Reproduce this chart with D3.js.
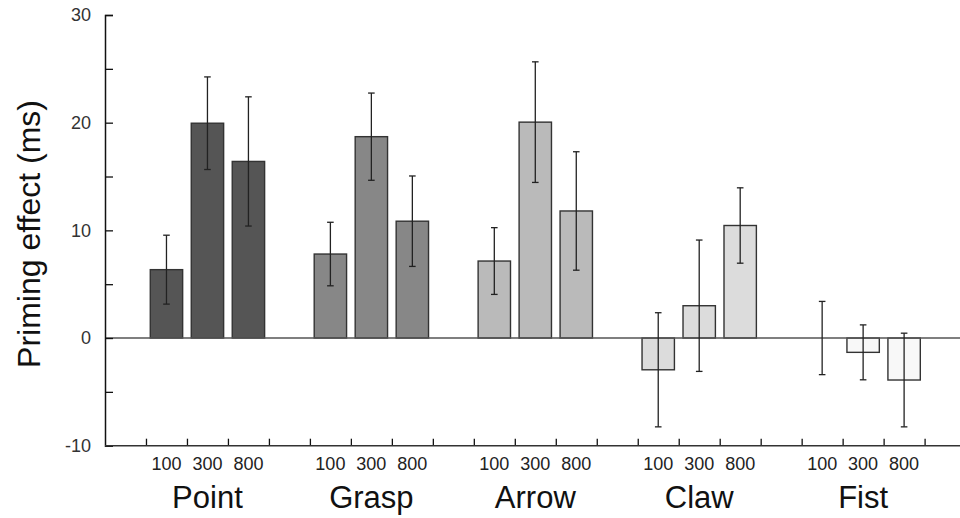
<!DOCTYPE html>
<html>
<head>
<meta charset="utf-8">
<script src="https://cdn.jsdelivr.net/npm/d3@7"></script>
<style>
  html, body { margin: 0; padding: 0; background: #fff; }
  svg { display: block; font-family: "Liberation Sans", Arial, sans-serif; }
</style>
</head>
<body>
<svg id="chart" width="960" height="518"></svg>
<script>
// ---- data ----
const categories = ["Point", "Grasp", "Arrow", "Claw", "Fist"];
const soaLabels = ["100", "300", "800"];
const pointMeans = [6.35, 19.95, 16.4];
const graspMeans = [7.8, 18.7, 10.85];
const arrowMeans = [7.15, 20.05, 11.8];
const clawMeans  = [-2.95, 3.0, 10.45];
const fistMeans  = [0.0, -1.33, -3.9];
const pointErr = [3.2, 4.3, 6.0];
const graspErr = [2.95, 4.05, 4.2];
const arrowErr = [3.1, 5.6, 5.5];
const clawErr  = [5.3, 6.1, 3.5];
const fistErr  = [3.4, 2.55, 4.35];
const yTicks = [-10, -5, 0, 5, 10, 15, 20, 25, 30];
const yLabelTicks = [-10, 0, 10, 20, 30];
const groupColors = ["#555555", "#878787", "#bababa", "#dcdcdc", "#f8f8f8"];

const meansAll = [pointMeans, graspMeans, arrowMeans, clawMeans, fistMeans];
const errAll = [pointErr, graspErr, arrowErr, clawErr, fistErr];

const rows = [];
categories.forEach((c, g) => {
  soaLabels.forEach((s, j) => {
    rows.push({ cat: c, g: g, soa: s, slot: g * 4 + 1 + j, mean: meansAll[g][j], err: errAll[g][j] });
  });
});

// ---- layout ----
const svg = d3.select("#chart");
const x0 = 105, slotW = 40.98;
const nSlots = 21;
const x = d3.scaleLinear().domain([0, nSlots]).range([x0, x0 + nSlots * slotW]);
const y = d3.scaleLinear().domain([-10, 30]).range([445.7, 15]);
const barW = slotW * 0.79;
const xEnd = 960;

// bars (zero-height bars are not drawn)
svg.append("g").selectAll("rect").data(rows.filter(d => d.mean !== 0)).join("rect")
  .attr("x", d => x(d.slot + 0.5) - barW / 2)
  .attr("width", barW)
  .attr("y", d => y(Math.max(0, d.mean)))
  .attr("height", d => Math.abs(y(d.mean) - y(0)))
  .attr("fill", d => groupColors[d.g])
  .attr("stroke", "#333")
  .attr("stroke-width", 1.4);

// zero line
svg.append("line")
  .attr("x1", x0).attr("x2", xEnd)
  .attr("y1", y(0)).attr("y2", y(0))
  .attr("stroke", "#555").attr("stroke-width", 1.5);

// error bars
const eb = svg.append("g").attr("stroke", "#222").attr("stroke-width", 1.3);
rows.forEach(d => {
  const cx = x(d.slot + 0.5);
  eb.append("line").attr("x1", cx).attr("x2", cx)
    .attr("y1", y(d.mean + d.err)).attr("y2", y(d.mean - d.err));
  [d.mean + d.err, d.mean - d.err].forEach(v => {
    eb.append("line").attr("x1", cx - 3.3).attr("x2", cx + 3.3)
      .attr("y1", y(v)).attr("y2", y(v));
  });
});

// y axis
const yAxis = d3.axisRight(y).tickValues(yTicks).tickSize(8).tickFormat("");
const yg = svg.append("g").attr("transform", `translate(${x0},0)`).call(yAxis);
yg.select(".domain").attr("stroke", "#111").attr("stroke-width", 1.5);
yg.selectAll(".tick line").attr("stroke", "#111").attr("stroke-width", 1.3);

svg.append("g").selectAll("text").data(yLabelTicks).join("text")
  .attr("x", 91).attr("y", d => y(d)).attr("dy", "0.35em")
  .attr("text-anchor", "end")
  .attr("font-size", 18).attr("fill", "#333")
  .text(d => d);

// x axis
const xTickVals = d3.range(1, 21);
const xAxis = d3.axisTop(x).tickValues(xTickVals).tickSize(7).tickFormat("");
const xg = svg.append("g").attr("transform", `translate(0,${y(-10)})`).call(xAxis);
xg.select(".domain").remove();
xg.append("line").attr("x1", x0).attr("x2", xEnd).attr("y1", 0).attr("y2", 0)
  .attr("stroke", "#333").attr("stroke-width", 1.5);
xg.selectAll(".tick line").attr("stroke", "#111").attr("stroke-width", 1.3);

// SOA labels
svg.append("g").selectAll("text").data(rows).join("text")
  .attr("x", d => x(d.slot + 0.5)).attr("y", 470)
  .attr("text-anchor", "middle")
  .attr("font-size", 18).attr("fill", "#222")
  .text(d => d.soa);

// category labels
svg.append("g").selectAll("text").data(categories).join("text")
  .attr("x", (d, g) => x(g * 4 + 2.5)).attr("y", 508)
  .attr("text-anchor", "middle")
  .attr("font-size", 31).attr("fill", "#111")
  .text(d => d);

// y label
svg.append("text")
  .attr("transform", "translate(40,234) rotate(-90)")
  .attr("text-anchor", "middle")
  .attr("font-size", 32).attr("fill", "#111")
  .text("Priming effect (ms)");
</script>
</body>
</html>
